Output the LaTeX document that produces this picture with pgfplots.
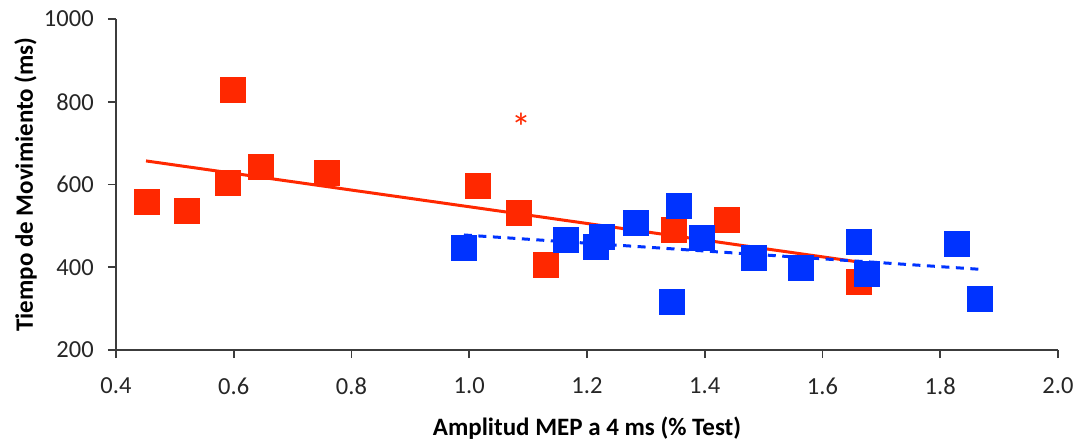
\documentclass[border=0pt]{standalone}
\usepackage{fontspec}
\setmainfont{Carlito}
\usepackage{pgfplots}
\pgfplotsset{compat=1.18}
\definecolor{redpt}{RGB}{255,40,0}
\definecolor{bluept}{RGB}{0,51,255}
\definecolor{axgray}{RGB}{60,60,60}

\begin{document}
\begin{tikzpicture}
\begin{axis}[
    scale only axis,
    width=376.8pt,
    height=132.4pt,
    xmin=0.4,xmax=2.0,
    ymin=200,ymax=1000,
    xtick={0.4,0.6,...,2.0},
    ytick={200,400,...,1000},
    axis x line*=bottom,
    axis y line*=left,
    axis line style={draw=axgray,line width=0.7pt,-},
    tick align=outside,
    major tick length=3.2pt,
    tick style={draw=axgray,line width=0.7pt},
    /pgf/number format/assume math mode=true,
    /pgf/number format/fixed,
    /pgf/number format/fixed zerofill,
    /pgf/number format/precision=1,
    yticklabel style={xshift=-2.2pt,/pgf/number format/precision=0,/pgf/number format/fixed zerofill=false,/pgf/number format/1000 sep={}},
    tick label style={font=\fontsize{9.8}{11}\selectfont,text=black!85},
    xticklabel style={yshift=-4.5pt},
    xlabel={\textbf{Amplitud MEP a 4 ms (\% Test)}},
    ylabel={\textbf{Tiempo de Movimiento (ms)}},
    label style={font=\fontsize{10}{12}\selectfont},
    xlabel style={yshift=-2pt},
    ylabel style={yshift=-4pt},
    clip=false,
]
% red group
\addplot[only marks,mark=square*,mark size=5pt,color=redpt] coordinates {
(0.452,558)(0.521,536)(0.598,829)(0.591,604)(0.647,643)(0.759,627)
(1.015,597)(1.085,532)(1.131,406)(1.347,490)(1.438,514)(1.662,365)};
% blue group
\addplot[only marks,mark=square*,mark size=5pt,color=bluept] coordinates {
(0.991,446)(1.165,467)(1.216,450)(1.226,472)(1.283,506)(1.357,548)
(1.344,315)(1.395,470)(1.483,422)(1.563,399)(1.662,460)(1.675,384)
(1.828,456)(1.868,323)};
% trend lines
\addplot[color=redpt,line width=1.2pt] coordinates {(0.451,657)(1.660,413)};
\addplot[color=bluept,line width=1.2pt,dash pattern=on 3.2pt off 2.6pt] coordinates {(0.991,478)(1.868,395)};
% significance mark
\addplot[mark=none,draw=none,nodes near coords={*},
    every node near coord/.append style={anchor=center,text=redpt,font=\fontsize{16}{16}\selectfont}]
    coordinates {(1.088,738)};
\end{axis}
\pgfresetboundingbox
\path (-46.4pt,-37.2pt) rectangle (385.6pt,140pt);
\end{tikzpicture}
\end{document}
